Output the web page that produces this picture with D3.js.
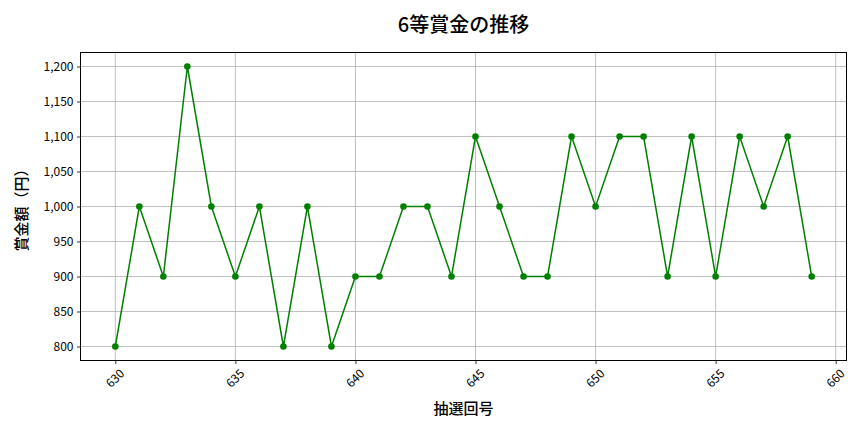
<!DOCTYPE html>
<html><head><meta charset="utf-8">
<script src="https://cdn.jsdelivr.net/npm/d3@7"></script>
<style>body{margin:0;background:#fff}svg{display:block}text{font-family:"Noto Sans CJK JP","Noto Sans",sans-serif}</style>
</head><body><svg id="c" width="864" height="432"></svg>
<script>
const draws = [630,631,632,633,634,635,636,637,638,639,640,641,642,643,644,645,646,647,648,649,650,651,652,653,654,655,656,657,658,659];
const prizes = [800,1000,900,1200,1000,900,1000,800,1000,800,900,900,1000,1000,900,1100,1000,900,900,1100,1000,1100,1100,900,1100,900,1100,1000,1100,900];
const xTicks = [630,635,640,645,650,655,660];
const yTicks = [800,850,900,950,1000,1050,1100,1150,1200];
const title = "6等賞金の推移";
const xLabel = "抽選回号";
const yLabel = "賞金額（円）";

const svg = d3.select("#c");
const L=80.5, R=846.5, T=52.5, B=360.5;
const x = d3.scaleLinear().domain([628.55,660.45]).range([L,R]);
const y = d3.scaleLinear().domain([780,1220]).range([B,T]);
const fmt = d3.format(",");

// grid
svg.append("g").selectAll("line").data(xTicks).join("line")
  .attr("x1",d=>x(d)).attr("x2",d=>x(d)).attr("y1",T).attr("y2",B)
  .attr("stroke","#b0b0b0").attr("stroke-width",0.8);
svg.append("g").selectAll("line").data(yTicks).join("line")
  .attr("y1",d=>y(d)).attr("y2",d=>y(d)).attr("x1",L).attr("x2",R)
  .attr("stroke","#b0b0b0").attr("stroke-width",0.8);

// axes
const xa = svg.append("g").attr("transform",`translate(0,${B})`)
  .call(d3.axisBottom(x).tickValues(xTicks).tickSize(3.5).tickPadding(3).tickFormat(d3.format("d")));
xa.selectAll("text").attr("font-size",12).attr("fill","#000")
  .attr("text-anchor","middle").attr("dy",null).attr("y",null)
  .attr("transform","translate(0,18.5) rotate(-45)").attr("dominant-baseline","middle");
const ya = svg.append("g").attr("transform",`translate(${L},0)`)
  .call(d3.axisLeft(y).tickValues(yTicks).tickSize(3.5).tickPadding(3.5).tickFormat(fmt));
ya.selectAll("text").attr("font-size",12).attr("fill","#000");
svg.selectAll(".domain").remove();
svg.selectAll(".tick line").attr("stroke","#000").attr("stroke-width",0.8);
svg.append("rect").attr("x",L).attr("y",T).attr("width",R-L).attr("height",B-T)
  .attr("fill","none").attr("stroke","#000").attr("stroke-width",1);

// line
svg.append("path").datum(draws.map((d,i)=>[d,prizes[i]]))
  .attr("d",d3.line().x(d=>x(d[0])).y(d=>y(d[1])))
  .attr("fill","none").attr("stroke","#008000").attr("stroke-width",1.5);
svg.append("g").selectAll("circle").data(draws.map((d,i)=>[d,prizes[i]])).join("circle")
  .attr("cx",d=>x(d[0])).attr("cy",d=>y(d[1])).attr("r",3.3).attr("fill","#008000");

// labels
svg.append("text").attr("x",(L+R)/2).attr("y",32).attr("text-anchor","middle")
  .attr("font-size",20).attr("font-weight",500).text(title);
svg.append("text").attr("x",(L+R)/2).attr("y",414).attr("text-anchor","middle")
  .attr("font-size",15).attr("font-weight",500).text(xLabel);
svg.append("text").attr("transform",`translate(27,${(T+B)/2}) rotate(-90)`).attr("text-anchor","middle")
  .attr("font-size",15).attr("font-weight",500).text(yLabel);
</script></body></html>
